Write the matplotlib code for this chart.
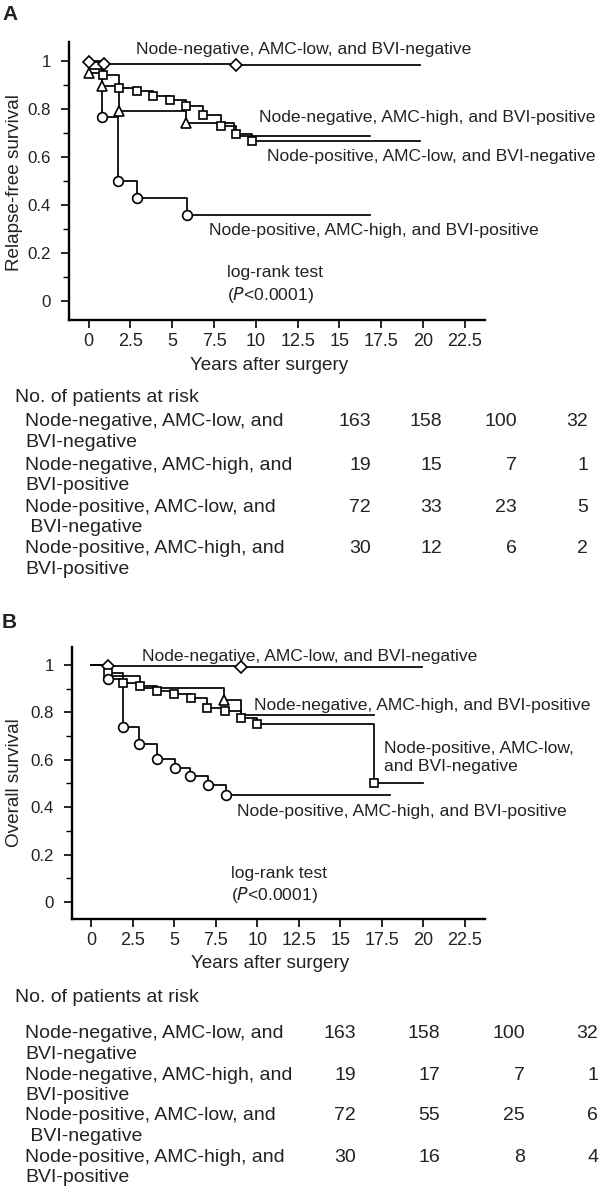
import matplotlib
matplotlib.use("Agg")
import matplotlib.pyplot as plt
from matplotlib.ticker import MultipleLocator

plt.rcParams['font.family'] = ['Liberation Sans', 'DejaVu Sans']

W, H = 600, 1192
FS = 12.6        # in-plot labels
FS_TICK_X = 13.0
FS_TICK_Y = 12.2
FS_AXIS = 13.6
FS_TABLE = 14.0
TXT = '#222222'

# ---------------- data ----------------
groups = ["Node-negative, AMC-low, and BVI-negative",
          "Node-negative, AMC-high, and BVI-positive",
          "Node-positive, AMC-low, and BVI-negative",
          "Node-positive, AMC-high, and BVI-positive"]
markers = ['D', '^', 's', 'o']

# Panel A: relapse-free survival (event times, survival, marked flags, last follow-up)
a_t = [[0, 0.95, 8.8],
       [0, 0.8, 1.83, 5.8, 8.7],
       [0, 0.87, 1.83, 2.9, 3.86, 4.87, 5.84, 6.85, 7.9, 8.8, 9.8],
       [0, 0.8, 1.76, 2.9, 5.9]]
a_s = [[0.994, 0.988, 0.983],
       [0.947, 0.895, 0.79, 0.74, 0.688],
       [1.0, 0.942, 0.888, 0.872, 0.855, 0.838, 0.81, 0.773, 0.73, 0.694, 0.665],
       [0.967, 0.765, 0.497, 0.427, 0.357]]
a_m = [[1, 1, 1],
       [1, 1, 1, 1, 0],
       [0, 1, 1, 1, 1, 1, 1, 1, 1, 1, 1],
       [0, 1, 1, 1, 1]]
a_end = [19.8, 16.8, 19.8, 16.8]

# Panel B: overall survival
b_t = [[0, 1.0, 9.0],
       [0, 1.0, 2.95, 8.0, 9.0],
       [0, 1.0, 1.93, 2.95, 3.97, 5.0, 6.0, 7.0, 8.07, 9.0, 10.0, 17.0],
       [0, 1.0, 1.93, 2.9, 4.0, 5.06, 5.96, 7.05, 8.1]]
b_s = [[1.0, 0.996, 0.99],
       [1.0, 0.955, 0.903, 0.852, 0.79],
       [1.0, 0.967, 0.924, 0.911, 0.89, 0.877, 0.86, 0.82, 0.805, 0.777, 0.75, 0.5],
       [1.0, 0.94, 0.738, 0.667, 0.603, 0.565, 0.532, 0.494, 0.452]]
b_m = [[0, 1, 1],
       [0, 0, 0, 1, 0],
       [0, 1, 1, 1, 1, 1, 1, 1, 1, 1, 1, 1],
       [0, 1, 1, 1, 1, 1, 1, 1, 1]]
b_end = [19.9, 17.0, 20.0, 18.0]

x_ticks = [0, 2.5, 5, 7.5, 10, 12.5, 15, 17.5, 20, 22.5]
x_tick_labels = ['0', '2.5', '5', '7.5', '10', '12.5', '15', '17.5', '20', '22.5']
y_ticks = [0, 0.2, 0.4, 0.6, 0.8, 1.0]
y_tick_labels = ['0', '0.2', '0.4', '0.6', '0.8', '1']

risk_labels = [["Node-negative, AMC-low, and", "BVI-negative"],
               ["Node-negative, AMC-high, and", "BVI-positive"],
               ["Node-positive, AMC-low, and", " BVI-negative"],
               ["Node-positive, AMC-high, and", "BVI-positive"]]
risk_a = [[163, 158, 100, 32],
          [19, 15, 7, 1],
          [72, 33, 23, 5],
          [30, 12, 6, 2]]
risk_b = [[163, 158, 100, 32],
          [19, 17, 7, 1],
          [72, 55, 25, 6],
          [30, 16, 8, 4]]

# ---------------- drawing ----------------
fig = plt.figure(figsize=(W / 100, H / 100), dpi=100)


def fx(px):
    return px / W


def fy(py):
    return 1 - py / H


def make_axes(left, top, right, bottom, xlim, ylim):
    ax = fig.add_axes([fx(left), fy(bottom), fx(right) - fx(left), fy(top) - fy(bottom)])
    ax.set_xlim(*xlim)
    ax.set_ylim(*ylim)
    for s in ['top', 'right']:
        ax.spines[s].set_visible(False)
    for s in ['left', 'bottom']:
        ax.spines[s].set_linewidth(1.7)
    ax.set_xticks(x_ticks)
    ax.set_xticklabels(x_tick_labels)
    ax.set_yticks(y_ticks)
    ax.set_yticklabels(y_tick_labels)
    ax.yaxis.set_minor_locator(MultipleLocator(0.1))
    ax.tick_params(axis='both', which='major', length=6, width=1.2,
                   labelcolor=TXT, pad=7)
    ax.tick_params(axis='x', which='major', labelsize=FS_TICK_X, pad=3.5)
    ax.tick_params(axis='y', which='major', labelsize=FS_TICK_Y)
    ax.tick_params(axis='y', which='minor', length=4, width=1.0)
    ax.patch.set_alpha(0)
    return ax


def draw_curves(ax, T, S, M, END):
    for t, s, m, end, mk in zip(T, S, M, END, markers):
        xs = list(t) + [end]
        ys = list(s) + [s[-1]]
        ax.step(xs, ys, where='post', color='black', lw=1.25, zorder=2)
        mx = [ti for ti, mi in zip(t, m) if mi]
        my = [si for si, mi in zip(s, m) if mi]
        ms = {'D': 6.5, '^': 6.5, 's': 6.0, 'o': 7.0}[mk]
        ax.plot(mx, my, ls='none', marker=mk, ms=ms, mfc='white', mec='black',
                mew=1.2, zorder=3, clip_on=False)


# Panel A
axA = make_axes(69, 42, 485, 320, (-1.17, 23.7), (-0.08, 1.078))
draw_curves(axA, a_t, a_s, a_m, a_end)
axA.text(2.84, 1.045, groups[0], fontsize=FS, color=TXT, va='center')
axA.text(10.19, 0.764, groups[1], fontsize=FS, color=TXT, va='center')
axA.text(10.67, 0.603, groups[2], fontsize=FS, color=TXT, va='center')
axA.text(7.2, 0.293, groups[3], fontsize=FS, color=TXT, va='center')
axA.text(8.28, 0.116, "log-rank test", fontsize=FS, color=TXT, va='center')
axA.text(8.28, 0.025, r"($\it{P}$<0.0001)", fontsize=FS, color=TXT, va='center')
fig.text(fx(15), fy(183), "Relapse-free survival", rotation=90, fontsize=FS_AXIS,
         color=TXT, ha='center', va='center')
fig.text(fx(269), fy(366), "Years after surgery", fontsize=FS_AXIS, color=TXT,
         ha='center', va='center')
fig.text(fx(2), fy(15), "A", fontsize=15, fontweight='bold', color=TXT, va='center')

# Panel B
axB = make_axes(72, 647, 485, 919, (-1.14, 23.7), (-0.072, 1.076))
draw_curves(axB, b_t, b_s, b_m, b_end)
axB.text(3.07, 1.038, groups[0], fontsize=FS, color=TXT, va='center')
axB.text(9.8, 0.827, groups[1], fontsize=FS, color=TXT, va='center')
axB.text(17.6, 0.61, "Node-positive, AMC-low,\nand BVI-negative", fontsize=FS,
         color=TXT, va='center', linespacing=1.3)
axB.text(8.8, 0.38, groups[3], fontsize=FS, color=TXT, va='center')
axB.text(8.4, 0.122, "log-rank test", fontsize=FS, color=TXT, va='center')
axB.text(8.4, 0.03, r"($\it{P}$<0.0001)", fontsize=FS, color=TXT, va='center')
fig.text(fx(15), fy(783), "Overall survival", rotation=90, fontsize=FS_AXIS,
         color=TXT, ha='center', va='center')
fig.text(fx(270), fy(963), "Years after surgery", fontsize=FS_AXIS, color=TXT,
         ha='center', va='center')
fig.text(fx(2), fy(623), "B", fontsize=15, fontweight='bold', color=TXT, va='center')


def risk_table(header_y, row_y, line_gap, col_right, values):
    fig.text(fx(15), fy(header_y), "No. of patients at risk", fontsize=FS_TABLE,
             color=TXT, va='center')
    for i, (labs, vals) in enumerate(zip(risk_labels, values)):
        y0 = row_y[i]
        fig.text(fx(25), fy(y0), labs[0], fontsize=FS_TABLE, color=TXT, va='center')
        fig.text(fx(25), fy(y0 + line_gap), labs[1], fontsize=FS_TABLE, color=TXT,
                 va='center')
        for xr, v in zip(col_right, vals):
            fig.text(fx(xr), fy(y0), str(v), fontsize=FS_TABLE, color=TXT,
                     va='center', ha='right')


risk_table(397, [422, 465, 507, 548], 21, [371, 442, 517, 588], risk_a)
risk_table(998, [1034, 1075, 1116, 1157], 20.5, [356, 440, 525, 598], risk_b)

fig.savefig("out.png", dpi=100)
